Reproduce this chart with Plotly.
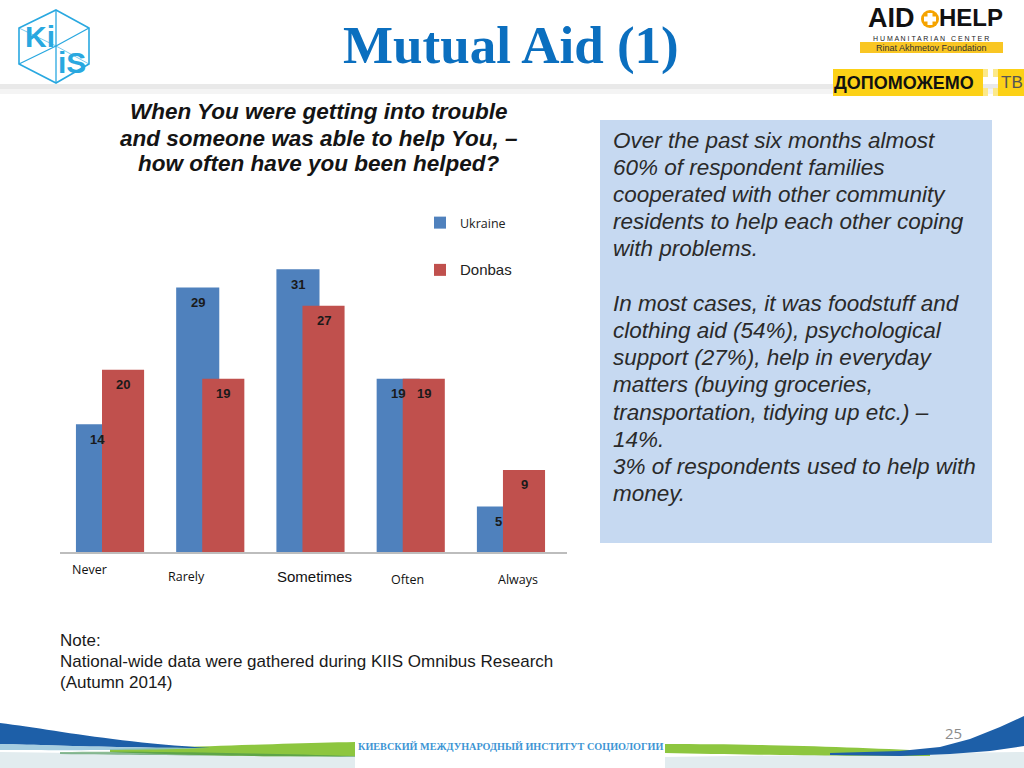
import plotly.graph_objects as go

# ---------------- data ----------------
categories = ["Never", "Rarely", "Sometimes", "Often", "Always"]
ukraine = [14, 29, 31, 19, 5]
donbas = [20, 19, 27, 19, 9]
series_names = ["Ukraine", "Donbas"]

question_lines = ["When You were getting into trouble",
                  "and someone was able to help You, \u2013",
                  "how often have you been helped?"]
box_lines = ["Over the past six months almost", "60% of respondent families",
             "cooperated with other community", "residents to help each other coping",
             "with problems.", "", "In most cases, it was foodstuff and",
             "clothing aid (54%), psychological", "support (27%), help in everyday",
             "matters (buying groceries,", "transportation, tidying up etc.) \u2013",
             "14%.", "3% of respondents used to help with", "money."]
note_lines = ["Note:", "National-wide data were gathered during KIIS Omnibus Research",
              "(Autumn 2014)"]

# ---------------- geometry helpers (pixel -> paper) ----------------
FW, FH = 1024, 768
L, R, T, B = 60, 567, 242, 552
W, H = R - L, B - T


def X(p):
    return (p - L) / W


def Y(p):
    return (B - p) / H


BLUE = "#4f81bd"
RED = "#c0504d"
U_OFF, U_WID = -0.35, 0.43
D_OFF, D_WID = -0.09, 0.42
idx = list(range(len(categories)))

fig = go.Figure()
fig.add_bar(x=idx, y=ukraine, offset=U_OFF, width=U_WID, marker_color=BLUE,
            marker_line_width=0, name=series_names[0], legendgroup="u",
            hoverinfo="skip")
fig.add_bar(x=idx, y=donbas, offset=D_OFF, width=D_WID, marker_color=RED,
            marker_line_width=0,
            name="<span style='font-family:Liberation Sans, Arial;font-size:15px'>"
                 + series_names[1] + "</span>",
            legendgroup="d", hoverinfo="skip")

ann = []


def text(xp, yp, s, family="Liberation Sans", size=12, color="#111", xanchor="center",
         **fkw):
    ann.append(dict(x=X(xp), y=Y(yp), xref="paper", yref="paper", text=s,
                    showarrow=False, xanchor=xanchor, yanchor="middle",
                    font=dict(family=family, size=size, color=color, **fkw)))


# data labels (drawn on top of both bars)
for vals, off, wid in ((ukraine, U_OFF, U_WID), (donbas, D_OFF, D_WID)):
    for i, v in enumerate(vals):
        ann.append(dict(x=i + off + wid / 2, y=v, xref="x", yref="y", text=str(v),
                        showarrow=False, yshift=-15, xanchor="center", yanchor="middle",
                        font=dict(family="Liberation Sans, Arial", size=13,
                                  color="#1a1a1a", weight="bold")))

# category labels (irregular placement, as on the slide)
lab_xshift = [-22, -25, 3, -4, 6]
lab_ypix = [569, 576, 576, 579, 579]
lab_font = ["Open Sans", "Open Sans", "Liberation Sans", "Open Sans", "Open Sans"]
lab_size = [12.5, 12.5, 15, 12.5, 12.5]
for i, c in enumerate(categories):
    ann.append(dict(x=i, xref="x", y=Y(lab_ypix[i]), yref="paper", text=c,
                    showarrow=False, xshift=lab_xshift[i], xanchor="center",
                    yanchor="middle",
                    font=dict(family=lab_font[i], size=lab_size[i], color="#111")))

# title
text(511, 45, "Mutual Aid (1)", family="Liberation Serif", size=53, color="#0b6fbf",
     weight="bold")

# question
for k, s in enumerate(question_lines):
    text(319, 112 + 26 * k, s, family="Liberation Sans, Arial", size=22.5,
         color="#141414", weight="bold", style="italic")

# right text box
for k, s in enumerate(box_lines):
    if s:
        text(611, 140 + 27.2 * k, s, family="Liberation Sans, Arial", size=22.5,
             color="#2a2a2a", xanchor="left", style="italic")

# note
for k, s in enumerate(note_lines):
    text(58, 640 + 21 * k, s, family="Liberation Sans, Arial", size=17,
         color="#1a1a1a", xanchor="left")

# page number and footer
text(953, 733, "25", family="Open Sans", size=15, color="#8c8c8c")
text(510, 746, "КИЕВСКИЙ МЕЖДУНАРОДНЫЙ ИНСТИТУТ СОЦИОЛОГИИ", family="Liberation Serif",
     size=10.2, color="#3d95d4", weight="bold")

# KIIS logo texts
KB = "#29a8e0"
text(40, 37, "Ki", size=30, color=KB, weight="bold")
text(72, 62, "iS", size=30, color=KB, weight="bold")

# AID+HELP logo texts
text(891, 18, "AID", family="Liberation Sans", size=27, color="#111", weight="bold")
text(971, 18, "HELP", family="Liberation Sans", size=24, color="#111", weight="bold")
text(931, 38.5, "H U M A N I T A R I A N &nbsp; C E N T E R", size=7, color="#222")
text(931, 47.8, "Rinat Akhmetov Foundation", size=9, color="#333")
text(904, 82.5, "ДОПОМОЖЕМО", size=18, color="#111", weight="bold")
text(1012, 82.5, "ТВ", size=17, color="#555")


def rect(x0, y0, x1, y1, color, layer="below", opacity=1.0):
    return dict(type="rect", xref="paper", yref="paper", x0=X(x0), x1=X(x1),
                y0=Y(y1), y1=Y(y0), fillcolor=color, line=dict(width=0),
                layer=layer, opacity=opacity)


def path(pts, color, close=True, width=0, fill=True, layer="below", opacity=1.0):
    d = "M" + " L".join(f"{X(a):.5f},{Y(b):.5f}" for a, b in pts)
    if close:
        d += " Z"
    s = dict(type="path", xref="paper", yref="paper", path=d, layer=layer,
             opacity=opacity)
    if fill:
        s["fillcolor"] = color
        s["line"] = dict(width=0)
    else:
        s["line"] = dict(color=color, width=width)
    return s


def bez(p0, c1, c2, p1, n=24):
    out = []
    for k in range(n + 1):
        t = k / n
        a = (1 - t) ** 3
        b = 3 * (1 - t) ** 2 * t
        c = 3 * (1 - t) * t ** 2
        d = t ** 3
        out.append((a * p0[0] + b * c1[0] + c * c2[0] + d * p1[0],
                    a * p0[1] + b * c1[1] + c * c2[1] + d * p1[1]))
    return out


shapes = []
# header shadow band
shapes.append(rect(0, 84, 1024, 89, "#e3e3e3", opacity=0.8))
shapes.append(rect(0, 89, 1024, 94, "#f1f1f1", opacity=0.8))
# text box
shapes.append(rect(600, 120, 992, 543, "#c6d9f1"))

# bottom swooshes - left
shapes.append(path([(0, 752), (355, 757), (355, 768), (0, 768)], "#e2ecef"))
shapes.append(path(bez((110, 749), (200, 747), (290, 743), (355, 742)) +
                   bez((355, 756), (290, 757), (200, 756), (110, 752)), "#8dc63f"))
shapes.append(path(bez((60, 752), (150, 751), (250, 753), (355, 756)) +
                   bez((355, 757), (250, 756), (150, 755), (60, 754)), "#3f8f4f",
                   opacity=0.6))
shapes.append(path(bez((0, 723), (50, 729), (110, 742), (210, 748)) +
                   bez((210, 748), (120, 748), (50, 745), (0, 744)), "#1d5fa8"))
shapes.append(path(bez((0, 744), (50, 745), (120, 748), (210, 748)) +
                   bez((210, 748), (120, 751), (50, 750), (0, 750)), "#8fc1d8",
                   opacity=0.8))
# bottom swooshes - right
shapes.append(path([(665, 757), (1024, 752), (1024, 768), (665, 768)], "#e2ecef"))
shapes.append(path(bez((665, 744), (760, 744), (850, 747), (930, 751)) +
                   bez((930, 756), (850, 756), (760, 755), (665, 753)), "#8dc63f"))
shapes.append(path([(830, 753), (900, 751), (940, 747), (970, 739), (1000, 727),
                    (1024, 716), (1024, 746), (990, 751), (950, 754), (900, 756),
                    (830, 755)], "#1d5fa8"))
shapes.append(rect(355, 718, 665, 768, "#ffffff"))

# KIIS cube
shapes.append(path([(56, 10), (89, 28), (89, 64), (56, 83), (19, 64), (19, 28)], KB,
                   close=True, fill=False, width=1.6))
shapes.append(path([(19, 64), (56, 46), (89, 28)], KB, close=False, fill=False, width=1.3))
shapes.append(path([(56, 10), (56, 83)], KB, close=False, fill=False, width=1.3))
shapes.append(path([(19, 28), (56, 46), (89, 64)], KB, close=False, fill=False, width=1.0,
                   opacity=0.6))

# AID+HELP logo graphics
shapes.append(dict(type="circle", xref="paper", yref="paper", x0=X(921), x1=X(939),
                   y0=Y(28), y1=Y(10), fillcolor="#f5a300", line=dict(width=0),
                   layer="below"))
shapes.append(rect(927.5, 13, 932.5, 25, "#ffffff", layer="above"))
shapes.append(rect(924, 16.5, 936, 21.5, "#ffffff", layer="above"))
shapes.append(rect(860, 42, 1003, 53, "#f9c623"))
shapes.append(rect(833, 69, 983, 96, "#fcd116"))
shapes.append(rect(998, 69, 1024, 96, "#fcd116"))
shapes.append(rect(983, 69, 988, 77, "#fce98a"))
shapes.append(rect(993, 69, 998, 77, "#fce98a"))
shapes.append(rect(983, 88, 988, 96, "#fce98a"))
shapes.append(rect(993, 88, 998, 96, "#fce98a"))

fig.update_layout(
    width=FW, height=FH,
    margin=dict(l=L, r=FW - R, t=T, b=FH - B, pad=0, autoexpand=False),
    paper_bgcolor="white", plot_bgcolor="white",
    barmode="overlay",
    showlegend=True,
    legend=dict(x=X(420), y=Y(208), xanchor="left", yanchor="top",
                bgcolor="rgba(0,0,0,0)", traceorder="grouped", tracegroupgap=28,
                font=dict(family="Open Sans", size=12.5, color="#222"),
                itemclick=False, itemdoubleclick=False),
    xaxis=dict(range=[-0.509, 4.549], showline=True, linecolor="#bdbdbd", linewidth=1.6,
               showticklabels=False, ticks="", showgrid=False, zeroline=False,
               fixedrange=True),
    yaxis=dict(range=[0, 34], visible=False, showgrid=False, zeroline=False,
               fixedrange=True),
    annotations=ann,
    shapes=shapes,
)

fig.write_html("out.html", config={"displayModeBar": False},
               post_script="document.body.style.margin='0';document.body.style.overflow='hidden';")
